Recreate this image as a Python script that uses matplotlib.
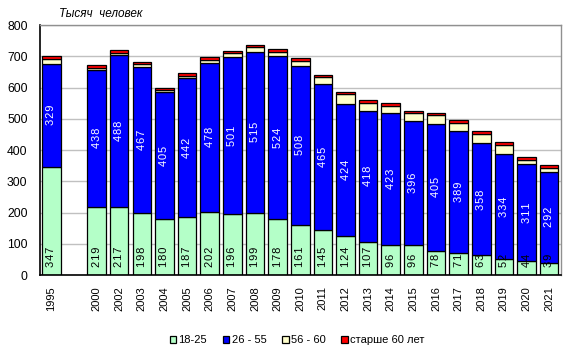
import matplotlib
matplotlib.use('Agg')
import matplotlib.pyplot as plt
import numpy as np

plt.rcParams['font.family'] = ['Liberation Sans', 'DejaVu Sans']

years = ['1995', '', '2000', '2002', '2003', '2004', '2005', '2006', '2007', '2008',
         '2009', '2010', '2011', '2012', '2013', '2014', '2015', '2016', '2017',
         '2018', '2019', '2020', '2021']
age_18_25 = [347, np.nan, 219, 217, 198, 180, 187, 202, 196, 199, 178, 161, 145, 124,
             107, 96, 96, 78, 71, 63, 52, 44, 39]
age_26_55 = [329, np.nan, 438, 488, 467, 405, 442, 478, 501, 515, 524, 508, 465, 424,
             418, 423, 396, 405, 389, 358, 334, 311, 292]
age_56_60 = [16, np.nan, 7, 7, 9, 7, 9, 9, 12, 15, 13, 17, 23, 30,
             24, 23, 25, 28, 25, 29, 29, 13, 11]
age_60plus = [8, np.nan, 8, 8, 8, 8, 8, 8, 8, 7, 8, 8, 8, 8,
              10, 8, 8, 7, 11, 10, 10, 9, 9]
series_names = ['18-25', '26 - 55', '56 - 60', 'старше 60 лет']
colors = ['#b4ffc8', '#0000ff', '#ffffcc', '#ff0000']

fig = plt.figure(figsize=(5.75, 3.57), dpi=100)
ax = fig.add_axes([40 / 575, 1 - 275 / 357, 520.5 / 575, 250 / 357])

x = np.arange(len(years))
g = np.array(age_18_25, dtype=float)
b = np.array(age_26_55, dtype=float)
y = np.array(age_56_60, dtype=float)
r = np.array(age_60plus, dtype=float)

bottom = np.zeros(len(years))
handles = []
for vals, c, name in zip([g, b, y, r], colors, series_names):
    h = ax.bar(x, vals, width=0.82, bottom=bottom, color=c, edgecolor='black',
               linewidth=0.9, label=name, zorder=2)
    handles.append(h)
    bottom = bottom + np.nan_to_num(vals)


def spaced(v):
    # digits are drawn a little apart in the original
    return '\u200a'.join(str(int(v)))


for i in range(len(years)):
    if np.isnan(g[i]):
        continue
    ax.text(x[i], 27, spaced(g[i]), rotation=90, rotation_mode='anchor',
            ha='left', va='center', fontsize=8, color='black', zorder=3)
    ax.text(x[i], g[i] + b[i] / 2, spaced(b[i]), rotation=90, rotation_mode='anchor',
            ha='center', va='center', fontsize=8, color='white', zorder=3)

ax.set_xlim(-0.5, len(years) - 0.5)
ax.set_ylim(0, 800)
ax.set_yticks(range(0, 801, 100))
ax.set_xticks(x)
ax.set_xticklabels(years, rotation=90, fontsize=8)
ax.tick_params(axis='x', length=0, pad=8)
ax.tick_params(axis='y', length=0, pad=9, labelsize=8.7)
ax.yaxis.grid(True, color='#c0c0c0', linewidth=1, zorder=0)
ax.set_axisbelow(True)

for s in ['left', 'bottom']:
    ax.spines[s].set_color('black')
    ax.spines[s].set_linewidth(1.2)
for s in ['top', 'right']:
    ax.spines[s].set_color('#909090')
    ax.spines[s].set_linewidth(1)

fig.text(59 / 575, 1 - 14 / 357, 'Тысяч  человек', fontsize=8.5, style='italic',
         ha='left', va='center')

fig.legend(handles=handles, labels=series_names, loc='center',
           bbox_to_anchor=(297 / 575, 1 - 340 / 357), ncol=4, frameon=False,
           fontsize=8, handlelength=0.6, handleheight=0.6, handletextpad=0.2,
           columnspacing=1.4)

fig.savefig('out.png', dpi=100)
